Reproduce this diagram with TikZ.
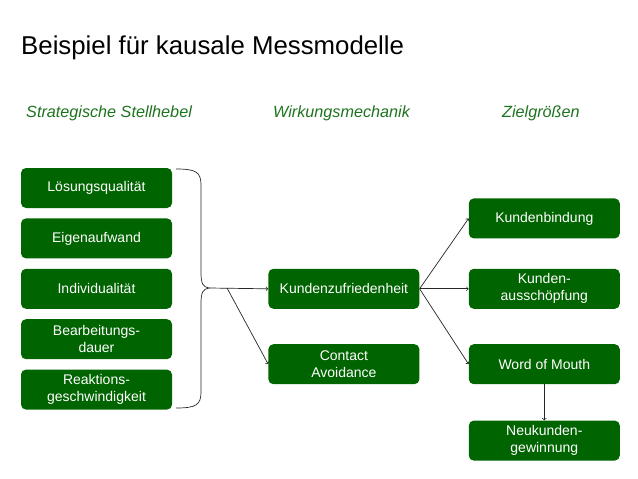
\documentclass[tikz,border=0pt]{standalone}
\usepackage{fontspec}
\setmainfont{Liberation Sans}
\usepackage{tikz}
\usetikzlibrary{positioning}
\definecolor{boxgreen}{RGB}{0,100,0}
\definecolor{headgreen}{RGB}{30,115,30}

\begin{document}
\begin{tikzpicture}[x=1pt, y=-1pt,
	box/.style={rectangle, rounded corners=5pt, fill=boxgreen, text=white,
	minimum width=151pt, minimum height=40pt, inner sep=2pt, align=center,
	font=\fontsize{14}{17}\selectfont},
	head/.style={anchor=base west, inner sep=0pt, text=headgreen,
	font=\fontsize{16.2}{19}\selectfont\itshape},
	conn/.style={->, line width=0.7pt, black!85}
	]
	\useasboundingbox (0,0) rectangle (638,479);
	
	\node[anchor=base west, inner sep=0pt, font=\fontsize{25.8}{30}\selectfont]
	(titel) at (21,54) {Beispiel für kausale Messmodelle};
	
	\node[head] (h1) at (26,117) {Strategische Stellhebel};
	\node[head] (h2) at (273,117) {Wirkungsmechanik};
	\node[head] (h3) at (502,117) {Zielgrößen};
	
	% Stellhebel
	\node[box] (loesung) at (96.5,188) {Lösungsqualität};
	\node[box] (eigen) [below=10pt of loesung] {Eigenaufwand};
	\node[box] (indiv) [below=10pt of eigen] {Individualität};
	\node[box] (dauer) [below=10pt of indiv] {Bearbeitungs-\\dauer};
	\node[box] (reaktion) [below=10pt of dauer] {Reaktions-\\geschwindigkeit};
	
	% Wirkungsmechanik
	\node[box] (zufried) [right=96pt of indiv] {Kundenzufriedenheit};
	\node[box] (contact) [below=35pt of zufried] {Contact\\Avoidance};
	
	% Zielgroessen
	\node[box] (ausschoepf) [right=49pt of zufried] {Kunden-\\ausschöpfung};
	\node[box] (bindung) [above=30pt of ausschoepf] {Kundenbindung};
	\node[box] (wom) [below=35pt of ausschoepf] {Word of Mouth};
	\node[box] (neukunden) [below=36pt of wom] {Neukunden-\\gewinnung};
	
	\coordinate (tip) at (209,288);
	\coordinate (split) at (227,288);
	
	\draw[line width=0.7pt, black!85]
	(176,169) .. controls (196,169) and (201,172) .. (201,185)
	-- (201,272) .. controls (201,284) and (203,287) .. (tip)
	.. controls (203,289) and (201,292) .. (201,304)
	-- (201,392) .. controls (201,405) and (196,408) .. (176,408);
	
	\draw[conn] (tip) -- (zufried.west);
	\draw[conn] (split) -- (contact.west);
	\draw[conn] (zufried.east) -- (bindung.west);
	\draw[conn] (zufried.east) -- (ausschoepf.west);
	\draw[conn] (zufried.east) -- (wom.west);
	\draw[conn] (wom.south) -- (neukunden.north);
\end{tikzpicture}
\end{document}
